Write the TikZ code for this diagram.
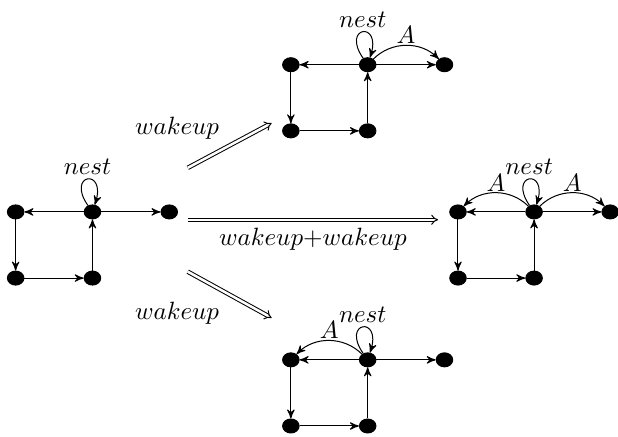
\documentclass[tikz,border=0pt]{standalone}
\usepackage{amsmath, amsfonts, amssymb}
\usepackage{tikz}
\usetikzlibrary{positioning,arrows,shapes}
\tikzset {
    style V/.style={
        ellipse, % Set the shape as an ellipse
        fill=black,
        draw=black,
        inner sep=0pt,
        minimum width=6.6pt,
        minimum height=5.6pt,
    },
    style E/.style={
        ->,
        >=stealth',
    },
    style L/.style={
        ->,
        >=stealth',
        loop above,
        out=125,
        in=72,
        min distance=5.5mm,
        looseness=8,
    },
    style W/.style={
        double,
        double distance=1pt,
        -implies,
    },
}

\begin{document}
\begin{tikzpicture}
\useasboundingbox (0,0) rectangle (8.69,6.14);

% start
\node[style V] at (0.22,3.16) (l1) {};
\node[style V] at (1.30,3.16) (l2) {};
\node[style V] at (2.38,3.16) (l3) {};
\node[style V] at (0.22,2.23) (l4) {};
\node[style V] at (1.30,2.23) (l5) {};
\draw[style E] (l2) edge (l1) (l1) edge (l4) (l4) edge (l5) (l5) edge (l2) (l2) edge (l3);
\draw (l2) edge[style L] node[above, inner sep=1.5pt] {$nest$} (l2);

% top
\node[style V] at (4.09,5.23) (t1) {};
\node[style V] at (5.17,5.23) (t2) {};
\node[style V] at (6.25,5.23) (t3) {};
\node[style V] at (4.09,4.30) (t4) {};
\node[style V] at (5.17,4.30) (t5) {};
\draw[style E] (t2) edge (t1) (t1) edge (t4) (t4) edge (t5) (t5) edge (t2) (t2) edge (t3);
\draw (t2) edge[style L] node[above, inner sep=1.5pt] {$nest$} (t2);
\draw[style E] (t2) to[bend left=45] node[above, inner sep=0.5pt] {$A$} (t3);

% right
\node[style V] at (6.44,3.16) (r1) {};
\node[style V] at (7.51,3.16) (r2) {};
\node[style V] at (8.58,3.16) (r3) {};
\node[style V] at (6.44,2.23) (r4) {};
\node[style V] at (7.51,2.23) (r5) {};
\draw[style E] (r2) edge (r1) (r1) edge (r4) (r4) edge (r5) (r5) edge (r2) (r2) edge (r3);
\draw (r2) edge[style L] node[above, inner sep=1.5pt] {$nest$} (r2);
\draw[style E] (r2) to[bend right=45] node[above, inner sep=0.5pt] {$A$} (r1);
\draw[style E] (r2) to[bend left=45] node[above, inner sep=0.5pt] {$A$} (r3);

% bottom
\node[style V] at (4.09,1.08) (b1) {};
\node[style V] at (5.17,1.08) (b2) {};
\node[style V] at (6.25,1.08) (b3) {};
\node[style V] at (4.09,0.15) (b4) {};
\node[style V] at (5.17,0.15) (b5) {};
\draw[style E] (b2) edge (b1) (b1) edge (b4) (b4) edge (b5) (b5) edge (b2) (b2) edge (b3);
\draw (b2) edge[style L] node[above, inner sep=1.5pt] {$nest$} (b2);
\draw[style E] (b2) to[bend right=45] node[above, inner sep=0.5pt] {$A$} (b1);

% moves
\coordinate (upS) at (2.64,3.78);
\coordinate (upE) at (3.82,4.41);
\coordinate (midS) at (2.64,3.05);
\coordinate (midE) at (6.16,3.05);
\coordinate (dnS) at (2.64,2.32);
\coordinate (dnE) at (3.82,1.67);
\draw[style W] (upS) -- (upE);
\draw[style W] (midS) -- (midE);
\draw[style W] (dnS) -- (dnE);
\node at (2.49,4.34) (upLbl) {$wakeup$};
\node at (4.40,2.77) (midLbl) {$wakeup{+}wakeup$};
\node at (2.49,1.74) (dnLbl) {$wakeup$};
\end{tikzpicture}
\end{document}
